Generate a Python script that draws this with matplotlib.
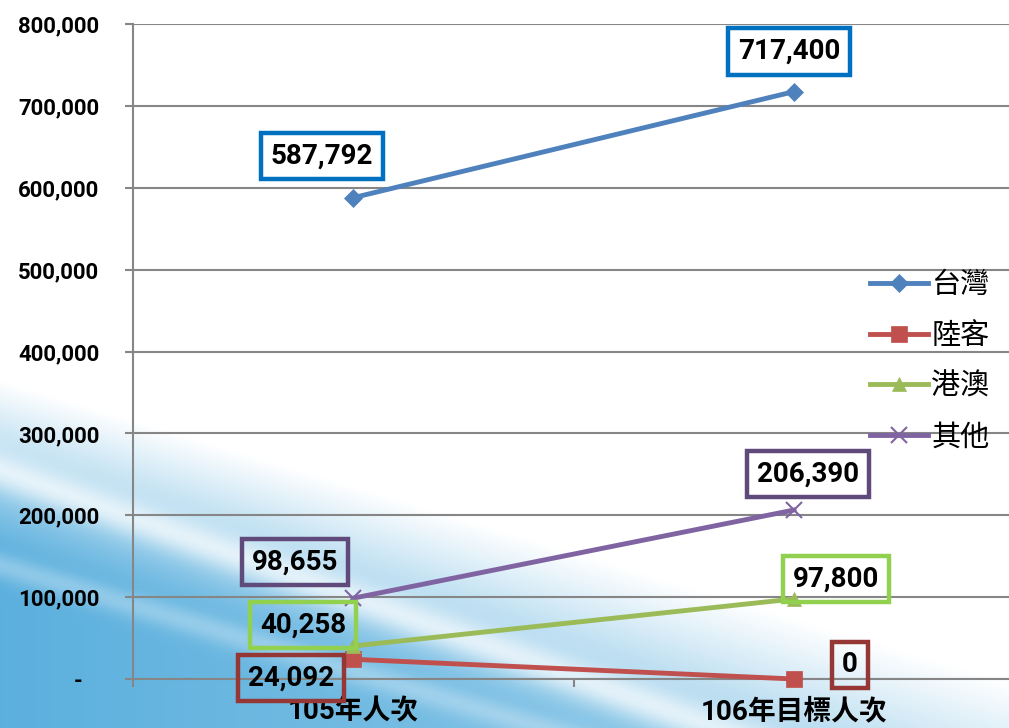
import numpy as np
import matplotlib
matplotlib.use("Agg")
import matplotlib.pyplot as plt
from matplotlib.ticker import FixedLocator, FuncFormatter

plt.rcParams['font.family'] = ['Roboto', 'Noto Sans CJK TC', 'DejaVu Sans']
plt.rcParams['font.weight'] = 'bold'

# data
categories = ['105年人次', '106年目標人次']
series_names = ['台灣', '陸客', '港澳', '其他']
taiwan = [587792, 717400]
mainland = [24092, 0]
hk_macau = [40258, 97800]
others = [98655, 206390]
series_values = [taiwan, mainland, hk_macau, others]

line_colors = ['#4F81BD', '#C0504D', '#9BBB59', '#8064A2']
box_colors = ['#0070C0', '#953735', '#92D050', '#604A7B']
markers = ['D', 's', '^', 'x']
msizes = [9, 11, 10, 11]
# label offsets in pixels (box centre relative to point)
offsets = [[(-31, 42), (-5, 40)],
           [(-62, -19), (56, 14)],
           [(-50, 21), (42, 20)],
           [(-58, 36), (14, 36)]]

W, H = 1009, 728
fig = plt.figure(figsize=(W / 100, H / 100), dpi=100)

# background swoosh
yy, xx = np.mgrid[0:H, 0:W].astype(float)
d = yy - (380 + 0.30 * xx)
s = np.clip(d / 170, 0, 1) * (1 - 0.38 * xx / W)
band = yy - (470 + 0.36 * xx)
s *= 1 - 0.7 * np.exp(-(band / 20) ** 2)
band2 = yy - (565 + 0.30 * xx)
s *= 1 - 0.3 * np.exp(-(band2 / 14) ** 2)
blue = np.array([0.36, 0.69, 0.87])
img = (1 - s)[..., None] * np.ones(3) + s[..., None] * blue
bg = fig.add_axes([0, 0, 1, 1])
bg.imshow(img, aspect='auto', extent=[0, 1, 0, 1], origin='upper')
bg.axis('off')

ax = fig.add_axes([132.5 / W, 49 / H, 882 / W, 655 / H])
ax.set_facecolor('none')
xs = [0.5, 1.5]
for name, vals, lc, bc, m, ms, offs in zip(series_names, series_values, line_colors,
                                          box_colors, markers, msizes, offsets):
    ax.plot(xs, vals, color=lc, lw=3.5, marker=m, markersize=ms,
            markeredgewidth=1.5 if m == 'x' else 0.5, markeredgecolor=lc,
            label=name, zorder=3, clip_on=False)
    for x, v, o in zip(xs, vals, offs):
        ax.annotate(f'{v:,}', (x, v), xytext=o, textcoords='offset pixels',
                    ha='center', va='center', fontsize=20, fontweight='bold',
                    color='black', zorder=5,
                    bbox=dict(boxstyle='square,pad=0.35', fc='none', ec=bc, lw=3.2))

ax.set_xlim(0, 2)
ax.set_ylim(0, 800000)
ax.yaxis.set_major_locator(FixedLocator(np.arange(0, 800001, 100000)))
ax.yaxis.set_major_formatter(FuncFormatter(lambda v, p: '-   ' if v == 0 else f'{int(v):,}'))
ax.xaxis.set_major_locator(FixedLocator(xs))
ax.set_xticklabels(categories, fontsize=20, fontweight='bold')
ax.xaxis.set_minor_locator(FixedLocator([0, 1, 2]))
ax.tick_params(axis='x', which='major', length=0, pad=14)
ax.tick_params(axis='x', which='minor', length=6, width=1.5, color='#868686')
ax.tick_params(axis='y', length=6, width=1.5, color='#868686', pad=18, labelsize=16)
ax.grid(axis='y', color='#868686', lw=1.5)
ax.set_axisbelow(True)
for side in ['top', 'right']:
    ax.spines[side].set_visible(False)
for side in ['left', 'bottom']:
    ax.spines[side].set_color('#868686')
    ax.spines[side].set_linewidth(1.5)

leg = ax.legend(loc='upper left', bbox_to_anchor=(870 / W, 1 - 271 / H),
                bbox_transform=fig.transFigure, frameon=False,
                prop={'size': 21, 'weight': 'normal'},
                handlelength=2.0, handletextpad=0.1, labelspacing=0.78,
                borderaxespad=0, borderpad=0)

fig.savefig('out.png', dpi=100)
